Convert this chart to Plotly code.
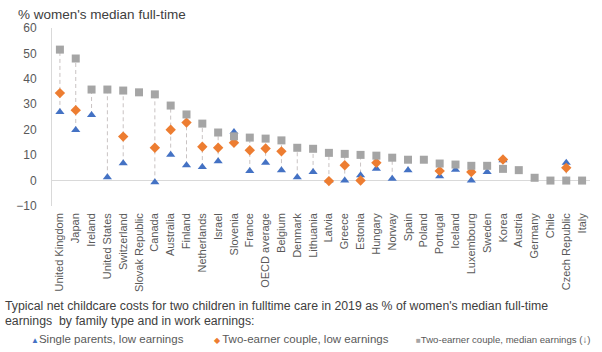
import plotly.graph_objects as go

countries = ["United Kingdom", "Japan", "Ireland", "United States", "Switzerland",
             "Slovak Republic", "Canada", "Australia", "Finland", "Netherlands",
             "Israel", "Slovenia", "France", "OECD average", "Belgium", "Denmark",
             "Lithuania", "Latvia", "Greece", "Estonia", "Hungary", "Norway", "Spain",
             "Poland", "Portugal", "Iceland", "Luxembourg", "Sweden", "Korea",
             "Austria", "Germany", "Chile", "Czech Republic", "Italy"]

single_low = [27.0, 19.9, 25.8, 1.3, 6.8, None, -0.7, 10.2, 6.0, 5.3,
              7.6, 19.1, 3.8, 7.0, 4.1, 1.3, 3.4, 0.0, 0.0, 2.1,
              4.6, 0.7, 4.1, None, 1.7, 4.3, 0.0, 3.4, 8.0, None,
              None, None, 7.0, None]

couple_low = [34.4, 27.7, None, None, 17.3, None, 12.9, 20.0, 22.8, 13.3,
              12.9, 14.9, 11.9, 12.6, 11.5, None, None, -0.2, 6.0, 0.0,
              7.0, None, None, None, 3.8, None, 3.4, None, 8.3, None,
              None, None, 5.0, None]

couple_median = [51.5, 48.0, 35.8, 35.8, 35.4, 34.7, 33.9, 29.5, 26.0, 22.4,
                 18.9, 17.4, 16.9, 16.5, 15.8, 12.9, 12.5, 10.9, 10.5, 10.1,
                 9.8, 9.0, 8.2, 8.2, 6.7, 6.3, 5.8, 5.8, 4.6, 4.1,
                 1.1, 0.0, 0.0, 0.0]

series_names = ["Single parents, low earnings",
                "Two-earner couple, low earnings",
                "Two-earner couple, median earnings (\u2193)"]
colors = ["#4472C4", "#ED7D31", "#A5A5A5"]
symbols = ["triangle-up", "diamond", "square"]
glyphs = ["\u25B2", "\u25C6 ", "\u25A0"]

font_main = "Liberation Sans, Arial, sans-serif"
text_col = "#595959"

# high-low lines from the data
hl_x, hl_y = [], []
for i, c in enumerate(countries):
    vals = [v for v in (single_low[i], couple_low[i], couple_median[i]) if v is not None]
    if len(vals) > 1:
        hl_x += [c, c, None]
        hl_y += [min(vals), max(vals), None]

fig = go.Figure()
fig.add_trace(go.Scatter(x=hl_x, y=hl_y, mode="lines",
                         line=dict(color="#c9c3c3", width=1, dash="4px,3px"),
                         hoverinfo="skip", showlegend=False))

for vals, name, col, sym in zip([single_low, couple_low, couple_median],
                                series_names, colors, symbols):
    fig.add_trace(go.Scatter(x=countries, y=vals, mode="markers", name=name,
                             marker=dict(color=col, symbol=sym, size=8,
                                         line=dict(width=0)),
                             showlegend=False))

fig.update_layout(
    width=602, height=352,
    margin=dict(l=52, r=12, t=28, b=146),
    paper_bgcolor="white", plot_bgcolor="white",
    font=dict(family=font_main, color=text_col, size=11),
    xaxis=dict(type="category", categoryorder="array", categoryarray=countries,
               range=[-0.5, len(countries) - 0.5],
               tickangle=-90, showgrid=False, showline=False, zeroline=False,
               tickfont=dict(size=11, color=text_col), ticks="",
               ticklabelstandoff=4),
    yaxis=dict(range=[-10, 60], dtick=10, showgrid=False,
               showline=True, linecolor="#d9d9d9", linewidth=1,
               zeroline=True, zerolinecolor="#d9d9d9", zerolinewidth=1,
               tickfont=dict(size=12, color=text_col), ticks="",
               ticklabelstandoff=12),
)


def px_x(p):
    return (p - 52) / (602 - 52 - 12)


def px_y(p):
    return (352 - 146 - p) / (352 - 28 - 146)


anns = []
anns.append(dict(text="% women's median full-time", x=px_x(16), y=px_y(15),
                 xanchor="left", yanchor="middle", xref="paper", yref="paper",
                 showarrow=False, font=dict(size=13.5, color="#404040")))
anns.append(dict(text="Typical net childcare costs for two children in fulltime care in 2019 as % of women's median full-time",
                 x=px_x(3), y=px_y(306), xanchor="left", yanchor="middle",
                 xref="paper", yref="paper", showarrow=False,
                 font=dict(size=12.3, color="#404040")))
anns.append(dict(text="earnings  by family type and in work earnings:",
                 x=px_x(3), y=px_y(321), xanchor="left", yanchor="middle",
                 xref="paper", yref="paper", showarrow=False,
                 font=dict(size=12.3, color="#404040")))
leg_x = [29, 212, 414]
leg_size = [11.5, 11.5, 9.6]
for lx, name, col, g, fs in zip(leg_x, series_names, colors, glyphs, leg_size):
    anns.append(dict(text=f"<span style='color:{col};font-size:8px'>{g}</span>{name}",
                     x=px_x(lx), y=px_y(339), xanchor="left", yanchor="middle",
                     xref="paper", yref="paper", showarrow=False,
                     font=dict(size=fs, color=text_col)))
fig.update_layout(annotations=anns)

fig.write_html("out.html")
